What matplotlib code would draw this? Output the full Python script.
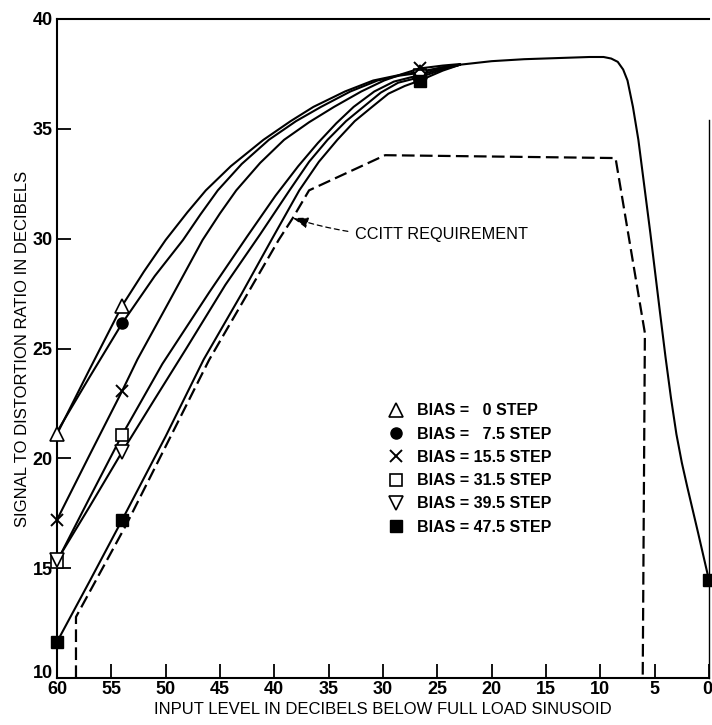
import matplotlib
matplotlib.use("Agg")
import matplotlib.pyplot as plt
from matplotlib.lines import Line2D
from matplotlib.transforms import ScaledTranslation

# ---- data -------------------------------------------------------------
# Input level (dB below full-load sinusoid) and S/D ratio (dB) per bias.
bias_labels = ["BIAS =   0 STEP", "BIAS =   7.5 STEP", "BIAS = 15.5 STEP",
               "BIAS = 31.5 STEP", "BIAS = 39.5 STEP", "BIAS = 47.5 STEP"]

b0_x = [60, 57, 54, 52, 50, 48, 46.3, 44, 41, 38.5, 36.4, 33.5, 30.9, 28.5, 26.6, 24.5, 22.9]
b0_y = [21.1, 24.05, 26.95, 28.5, 29.94, 31.2, 32.2, 33.3, 34.5, 35.35, 36.0, 36.7, 37.2, 37.45, 37.6, 37.8, 37.92]

b7_x = [60, 57, 54, 51, 48.4, 46.8, 45.2, 43, 40.5, 38, 35.7, 33, 30.5, 28.5, 26.6, 24.5, 22.9]
b7_y = [21.2, 23.7, 26.15, 28.3, 29.94, 31.1, 32.2, 33.4, 34.5, 35.35, 36.0, 36.7, 37.2, 37.42, 37.55, 37.8, 37.92]

b15_x = [60, 57, 54, 52.6, 49.5, 46.6, 45, 43.5, 41.3, 39.1, 36.8, 34.5, 32, 29.9, 28.2, 26.6, 24.5, 22.9]
b15_y = [17.2, 20.15, 23.07, 24.5, 27.3, 29.94, 31.15, 32.2, 33.45, 34.5, 35.3, 36.0, 36.7, 37.2, 37.5, 37.75, 37.88, 37.95]

b31_x = [60, 57, 54, 50.3, 46, 42.5, 39.9, 37.8, 36, 34.3, 32.7, 30.8, 29, 26.6, 24.5, 22.9]
b31_y = [15.3, 18.2, 21.07, 24.3, 27.55, 30.1, 31.95, 33.3, 34.35, 35.25, 36.0, 36.7, 37.15, 37.45, 37.75, 37.92]

b39_x = [60, 57, 54, 51, 48.1, 44.5, 41.3, 38.6, 36.8, 35.1, 33.4, 31.8, 30.2, 28.6, 26.6, 24.5, 22.9]
b39_y = [15.35, 17.8, 20.3, 22.7, 25.0, 27.9, 30.2, 32.2, 33.5, 34.5, 35.35, 36.0, 36.65, 37.1, 37.35, 37.7, 37.92]

b47_x = [60, 57, 54, 50, 46.5, 43, 40.2, 37.7, 35.9, 34.2, 32.6, 31, 29.5, 28, 26.6, 24.5, 22.9]
b47_y = [11.64, 14.4, 17.2, 21.0, 24.5, 27.5, 30.0, 32.2, 33.5, 34.5, 35.35, 36.0, 36.6, 36.95, 37.2, 37.65, 37.92]

# measured points (markers)
b0_px, b0_py = [60, 54, 26.6], [21.1, 26.95, 37.6]
b7_px, b7_py = [54, 26.6], [26.15, 37.55]
b15_px, b15_py = [60, 54, 26.6], [17.2, 23.07, 37.75]
b31_px, b31_py = [60, 54, 26.6], [15.3, 21.07, 37.45]
b39_px, b39_py = [60, 54, 26.6], [15.35, 20.3, 37.35]
b47_px, b47_py = [60, 54, 26.6, 0], [11.64, 17.2, 37.2, 14.45]

# common overload region shared by all bias curves
overload_x = [22.9, 20, 17, 14, 11, 9.7, 9.0, 8.4, 7.9, 7.5, 7.0, 6.5, 5.4, 4.5, 4.0, 3.5, 3.0, 2.5, 2.0, 1.0, 0]
overload_y = [37.92, 38.08, 38.17, 38.22, 38.27, 38.27, 38.2, 38.05, 37.7, 37.2, 36.0, 34.5, 30.26, 26.6, 24.6, 22.75, 21.1, 19.8, 18.7, 16.6, 14.45]

# CCITT requirement mask
ccitt_x = [58.25, 58.25, 53.6, 46.0, 39.6, 38.3, 36.8, 29.8, 8.6, 5.9, 6.1]
ccitt_y = [10, 12.78, 17.0, 24.48, 29.94, 30.94, 32.2, 33.8, 33.67, 25.7, 10]

x_ticks = [60, 55, 50, 45, 40, 35, 30, 25, 20, 15, 10, 5, 0]
y_ticks = [10, 15, 20, 25, 30, 35, 40]

# ---- figure -----------------------------------------------------------
plt.rcParams["font.family"] = ["Liberation Sans", "DejaVu Sans"]
fig = plt.figure(figsize=(7.12, 7.25), dpi=100)
ax = fig.add_axes([0.080, 0.0648, 0.9158, 0.909])

LW = 1.5
curves = [(b0_x, b0_y), (b7_x, b7_y), (b15_x, b15_y),
          (b31_x, b31_y), (b39_x, b39_y), (b47_x, b47_y)]
for cx, cy in curves:
    ax.plot(cx, cy, color="black", lw=LW, solid_capstyle="round",
            solid_joinstyle="round", zorder=2)
ax.plot(overload_x, overload_y, color="black", lw=LW,
        solid_joinstyle="round", zorder=2)
ax.plot(ccitt_x, ccitt_y, color="black", lw=1.6,
        linestyle=(0, (5.7, 2.4)), zorder=2)

ms = 9
styles = [
    (b0_px, b0_py, dict(marker="^", mfc="white", mec="black", mew=1.2, ms=ms + 1), 4),
    (b7_px, b7_py, dict(marker="o", mfc="black", mec="black", ms=ms - 1), 3),
    (b15_px, b15_py, dict(marker="x", mec="black", mew=1.4, ms=ms), 5),
    (b31_px, b31_py, dict(marker="s", mfc="white", mec="black", mew=1.2, ms=ms), 3),
    (b39_px, b39_py, dict(marker="v", mfc="white", mec="black", mew=1.2, ms=ms + 1), 4),
    (b47_px, b47_py, dict(marker="s", mfc="black", mec="black", ms=ms), 5),
]
handles = []
for (px, py, st, z), lab in zip(styles, bias_labels):
    ax.plot(px, py, linestyle="none", zorder=z, clip_on=False, **st)
    handles.append(Line2D([], [], linestyle="none", label=lab, **st))

leg = ax.legend(handles=handles, loc="upper left", bbox_to_anchor=(0.508, 0.417),
                frameon=False, fontsize=11.5, handlelength=1.0, handletextpad=0.8,
                labelspacing=0.52, borderaxespad=0, borderpad=0)
for t in leg.get_texts():
    t.set_fontweight("bold")

ax.annotate("CCITT REQUIREMENT", xy=(38.3, 30.94), xytext=(32.6, 30.17),
            fontsize=11.7, va="center", ha="left",
            arrowprops=dict(arrowstyle="-|>,head_length=0.8,head_width=0.28",
                            color="black", lw=0.9, linestyle=(0, (4, 3)),
                            connectionstyle="arc3,rad=-0.1",
                            shrinkA=3, shrinkB=0))

ax.set_xlim(60, 0)
ax.set_ylim(10, 40)
ax.set_xticks(x_ticks)
ax.set_yticks(y_ticks)
ax.tick_params(direction="in", length=10, width=1.3, labelsize=13, pad=3,
               colors="black")
ax.tick_params(axis="x", pad=2)
for lab in ax.get_xticklabels() + ax.get_yticklabels():
    lab.set_fontweight("bold")

# corner labels: lift "10" clear of the x labels, keep "0" inside the figure
lab10 = ax.yaxis.get_major_ticks()[0].label1
lab10.set_transform(lab10.get_transform() + ScaledTranslation(0, 5 / 72, fig.dpi_scale_trans))
lab0 = ax.xaxis.get_major_ticks()[-1].label1
lab0.set_horizontalalignment("right")
lab0.set_transform(lab0.get_transform() + ScaledTranslation(2.5 / 72, 0, fig.dpi_scale_trans))

for side in ["left", "bottom", "top", "right"]:
    ax.spines[side].set_linewidth(1.5)
ax.spines["right"].set_bounds(10, 35.4)
ax.spines["right"].set_linewidth(1.0)

ax.set_xlabel("INPUT LEVEL IN DECIBELS BELOW FULL LOAD SINUSOID",
              fontsize=12, labelpad=3)
ax.set_ylabel("SIGNAL TO DISTORTION RATIO IN DECIBELS", fontsize=12, labelpad=2)

fig.savefig("out.png", dpi=100)
